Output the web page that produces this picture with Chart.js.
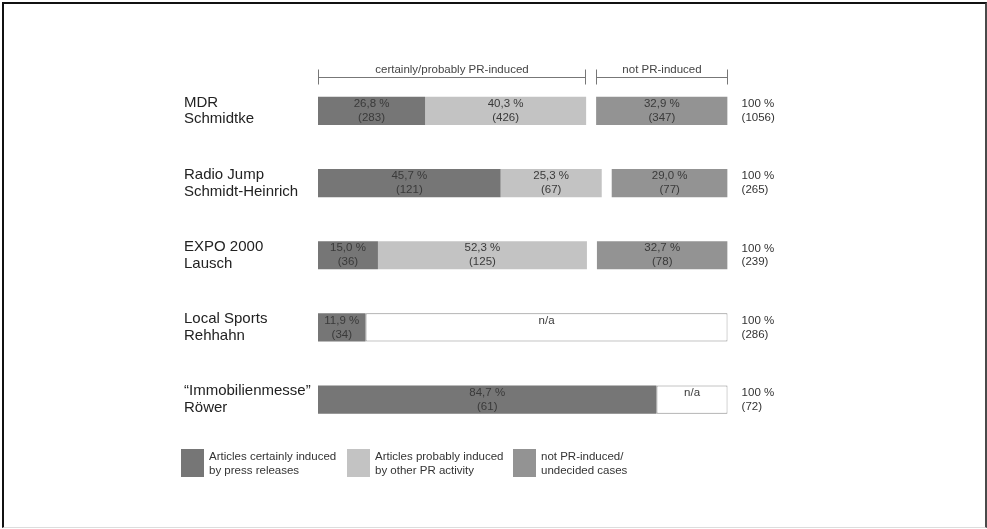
<!DOCTYPE html>
<html lang="en">
<head>
<meta charset="UTF-8">
<title>PR-induced articles</title>
<script src="https://cdn.jsdelivr.net/npm/chart.js"></script>
<style>
  body { margin: 0; background: #fff; font-family: "Liberation Sans", Arial, sans-serif; }
  .wrap { position: relative; width: 987px; height: 529px; }
  #chart { position: absolute; left: 0; top: 0; }
  /* scanned-figure frame */
  .frame {
    position: absolute; left: 2px; top: 2px; width: 981px; height: 523px;
    border-left: 2px solid #111; border-top: 2px solid #111;
    border-right: 2px solid #4a4a4a; border-bottom: 1px solid #ddd;
    pointer-events: none;
  }
  #legend { position: absolute; left: 181px; top: 449px; display: flex; }
  .item { display: flex; width: 166px; }
  .box { width: 23px; height: 28px; margin-right: 5px; flex: none; }
  .txt { font-size: 11.5px; line-height: 13.5px; color: #333; padding-top: 1px; }
</style>
</head>
<body>
<div class="wrap">
  <canvas id="chart" width="987" height="529"></canvas>
  <div class="frame"></div>
  <div id="legend"></div>
</div>
<script>
  const rowNames = [
    ['MDR', 'Schmidtke'],
    ['Radio Jump', 'Schmidt-Heinrich'],
    ['EXPO 2000', 'Lausch'],
    ['Local Sports', 'Rehhahn'],
    ['\u201CImmobilienmesse\u201D', 'Röwer']
  ];
  const certainPct  = [26.8, 45.7, 15.0, 11.9, 84.7];
  const certainN    = [283, 121, 36, 34, 61];
  const probablePct = [40.3, 25.3, 52.3, null, null];
  const probableN   = [426, 67, 125, null, null];
  const notPrPct    = [32.9, 29.0, 32.7, null, null];
  const notPrN      = [347, 77, 78, null, null];
  const totalN      = [1056, 265, 239, 286, 72];

  const groupNames  = ['certainly/probably PR-induced', 'not PR-induced'];
  const legendNames = [
    ['Articles certainly induced', 'by press releases'],
    ['Articles probably induced', 'by other PR activity'],
    ['not PR-induced/', 'undecided cases']
  ];

  const GAP = 2.5;  // white gap between PR-induced part and the rest
  const FONT = '"Liberation Sans", Arial, sans-serif';
  const colDark = '#767676', colLight = '#c3c3c3', colMid = '#939393';

  const hasNa   = notPrPct.map(v => v === null);
  const gapData = hasNa.map(na => na ? null : GAP);
  const naData  = certainPct.map((v, i) => hasNa[i] ? 100 - v + GAP : null);

  const fmtPct = v => v.toFixed(1).replace('.', ',') + ' %';
  const pair = (pct, n) => pct.map((v, i) => v === null ? null : [fmtPct(v), '(' + n[i] + ')']);

  // text inside the bars
  const barText = {
    id: 'barText',
    afterDatasetsDraw(chart) {
      const ctx = chart.ctx;
      ctx.save();
      ctx.font = '11.5px ' + FONT;
      ctx.fillStyle = '#3a3a3a';
      ctx.textAlign = 'center';
      ctx.textBaseline = 'middle';
      chart.data.datasets.forEach((ds, di) => {
        if (!ds.txt) return;
        chart.getDatasetMeta(di).data.forEach((bar, i) => {
          const t = ds.txt[i];
          if (!t) return;
          const cx = (bar.x + bar.base) / 2;
          ctx.fillText(t[0], cx, bar.y - 7);
          if (t[1]) ctx.fillText(t[1], cx, bar.y + 7);
        });
      });
      ctx.restore();
    }
  };

  // brackets above the first row
  const brackets = {
    id: 'brackets',
    afterDraw(chart) {
      const { ctx, scales: { x, y } } = chart;
      const yl = Math.round(y.getPixelForValue(0) - 34) + 0.5;
      const split = certainPct[0] + probablePct[0];
      const spans = [[0, split], [split + GAP, 100 + GAP]];
      ctx.save();
      ctx.strokeStyle = '#777';
      ctx.lineWidth = 1;
      ctx.font = '11.5px ' + FONT;
      ctx.fillStyle = '#444';
      ctx.textAlign = 'center';
      ctx.textBaseline = 'middle';
      spans.forEach(([a, b], k) => {
        const x0 = Math.round(x.getPixelForValue(a)) + 0.5;
        const x1 = Math.round(x.getPixelForValue(b)) - 0.5;
        ctx.beginPath();
        ctx.moveTo(x0, yl - 8); ctx.lineTo(x0, yl + 7);
        ctx.moveTo(x0, yl);     ctx.lineTo(x1, yl);
        ctx.moveTo(x1, yl - 8); ctx.lineTo(x1, yl + 7);
        ctx.stroke();
        ctx.fillText(groupNames[k], (x0 + x1) / 2, yl - 8);
      });
      ctx.restore();
    }
  };

  new Chart(document.getElementById('chart'), {
    type: 'bar',
    data: {
      labels: rowNames,
      datasets: [
        { label: legendNames[0].join(' '), data: certainPct, backgroundColor: colDark, txt: pair(certainPct, certainN) },
        { label: legendNames[1].join(' '), data: probablePct, backgroundColor: colLight, txt: pair(probablePct, probableN) },
        { label: 'gap', data: gapData, backgroundColor: 'rgba(0,0,0,0)' },
        { label: legendNames[2].join(' '), data: notPrPct, backgroundColor: colMid, txt: pair(notPrPct, notPrN) },
        { label: 'n/a', data: naData, backgroundColor: '#fff', borderColor: '#8a8a8a', borderWidth: 1,
          borderSkipped: false, txt: naData.map(v => v === null ? null : ['n/a', '']) }
      ]
    },
    options: {
      indexAxis: 'y',
      responsive: false,
      animation: false,
      categoryPercentage: 1,
      barPercentage: 0.39,
      layout: { padding: { left: 184, right: 199.4, top: 74.75, bottom: 93.25 } },
      plugins: { legend: { display: false }, tooltip: { enabled: false } },
      scales: {
        x: { stacked: true, min: 0, max: 100 + GAP, display: false },
        y: {
          stacked: true,
          grid: { display: false, drawTicks: false },
          border: { display: false },
          ticks: { crossAlign: 'far', color: '#222', font: { family: FONT, size: 15, lineHeight: 1.13 } },
          afterFit(s) { s.width = 134; }
        },
        y2: {
          type: 'category',
          position: 'right',
          offset: true,
          labels: totalN.map(n => ['100 %', '(' + n + ')']),
          grid: { display: false, drawTicks: false },
          border: { display: false },
          ticks: { padding: 14, color: '#333', font: { family: FONT, size: 11.5, lineHeight: 1.2 } },
          afterFit(s) { s.width = 60; }
        }
      }
    },
    plugins: [barText, brackets]
  });

  // legend under the chart
  const legend = document.getElementById('legend');
  [colDark, colLight, colMid].forEach((c, i) => {
    const item = document.createElement('div');
    item.className = 'item';
    item.innerHTML = '<div class="box" style="background:' + c + '"></div>' +
      '<div class="txt">' + legendNames[i].join('<br>') + '</div>';
    legend.appendChild(item);
  });
</script>
</body>
</html>
